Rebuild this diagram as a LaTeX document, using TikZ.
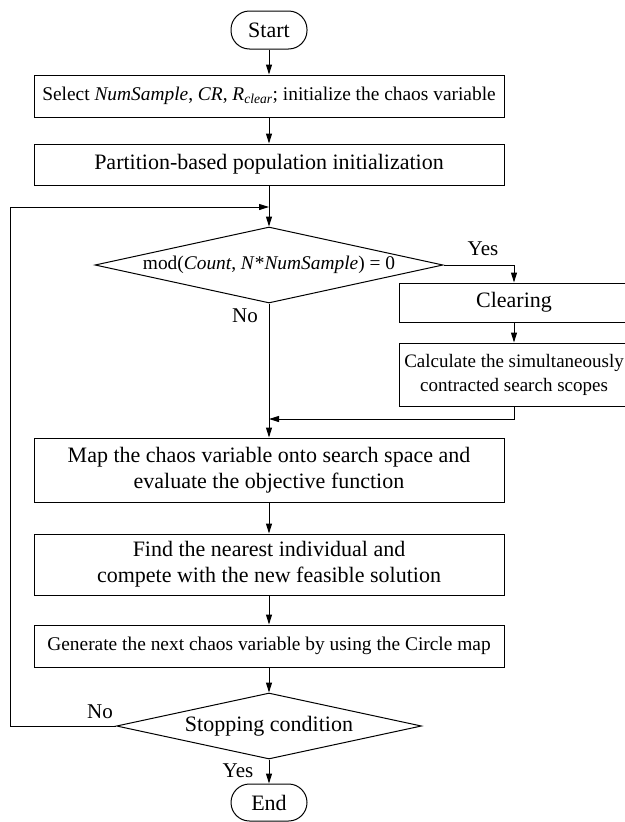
\documentclass[tikz,border=0pt]{standalone}
\usepackage{fontspec}
\setmainfont{Liberation Serif}
\usetikzlibrary{arrows.meta,shapes.geometric}
\begin{document}
\begin{tikzpicture}[x=1pt,y=-1pt,
  line width=1pt,
  arr/.style={-{Triangle[length=10pt,width=6pt]}},
  bigtxt/.style={font=\fontsize{22}{26}\selectfont},
  smalltxt/.style={font=\fontsize{19.4}{24}\selectfont},
  sidetxt/.style={font=\fontsize{19}{24}\selectfont},
  term/.style={draw, rounded corners=18.5pt, minimum width=76pt, inner sep=0pt, bigtxt},
  proc/.style={draw, minimum width=470pt, inner sep=0pt, align=center},
  side/.style={draw, minimum width=230pt, inner sep=0pt, align=center},
  dec/.style={draw, diamond, inner sep=0pt},
  lbl/.style={inner sep=0pt, font=\fontsize{21}{24}\selectfont}
]
\useasboundingbox (0,0) rectangle (624,822);

\node[term, minimum height=38pt] (start) at (269,30) {Start};
\node[proc, minimum height=42pt, smalltxt] (sel) at (269,96)
  {Select \textit{NumSample}, \textit{CR}, \textit{R}\textsubscript{\textit{clear}}; initialize the chaos variable};
\node[proc, minimum height=41pt, bigtxt] (part) at (269,164.5) {Partition-based population initialization};
\node[dec, minimum width=348pt, minimum height=76pt, smalltxt] (d1) at (269,265)
  {\makebox[0pt]{mod(\textit{Count}, \textit{N}*\textit{NumSample}) = 0}};
\node[side, minimum height=39pt, bigtxt] (clr) at (514,302.5) {Clearing};
\node[side, minimum height=63pt, sidetxt] (calc) at (514,374.5)
  {Calculate the simultaneously\\contracted search scopes};
\node[proc, minimum height=64pt, bigtxt] (map) at (269,470)
  {Map the chaos variable onto search space and\\evaluate the objective function};
\node[proc, minimum height=61pt, bigtxt] (find) at (269,564.5)
  {Find the nearest individual and\\compete with the new feasible solution};
\node[proc, minimum height=42pt, smalltxt] (gen) at (269,646)
  {Generate the next chaos variable by using the Circle map};
\node[dec, minimum width=305pt, minimum height=66pt, bigtxt] (d2) at (269,726)
  {\makebox[0pt]{Stopping condition}};
\node[term, minimum height=37pt] (end) at (269,802.5) {End};

\node[lbl] (yes1) at (483,249) {Yes};
\node[lbl] (no1) at (245,316) {No};
\node[lbl] (no2) at (100,712) {No};
\node[lbl] (yes2) at (238,771) {Yes};

\coordinate (j1) at (269,207);
\coordinate (lx) at (10,207);
\coordinate (j2) at (269,419);

\draw[arr] (start) -- (sel);
\draw[arr] (sel) -- (part);
\draw[arr] (part) -- (d1);
\draw[arr] (d1.east) -| (clr.north);
\draw[arr] (clr) -- (calc);
\draw[arr] (calc.south) |- (j2);
\draw[arr] (d1.south) -- (map.north);
\draw[arr] (map) -- (find);
\draw[arr] (find) -- (gen);
\draw[arr] (gen) -- (d2);
\draw[arr] (d2) -- (end);
\draw[arr] (d2.west) -| (lx) -- (j1);
\end{tikzpicture}
\end{document}
